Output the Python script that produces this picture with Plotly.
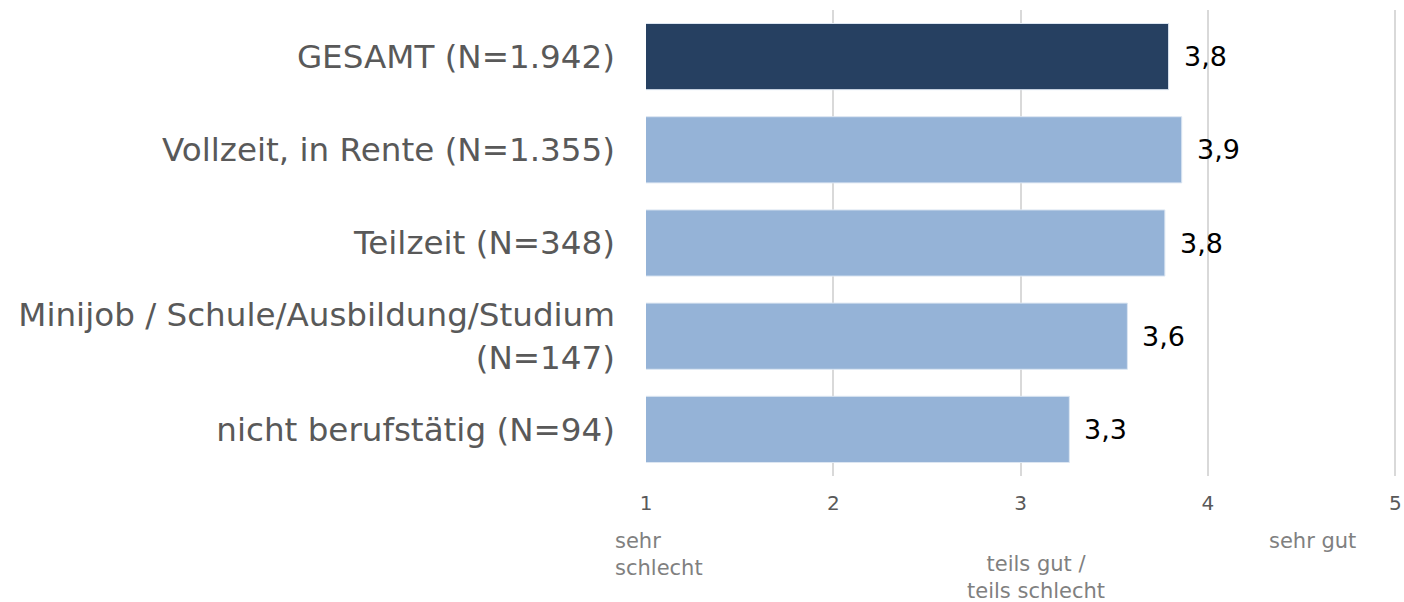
import plotly.graph_objects as go

# data
categories = [
    "GESAMT (N=1.942)",
    "Vollzeit, in Rente (N=1.355)",
    "Teilzeit (N=348)",
    "Minijob / Schule/Ausbildung/Studium<br>(N=147)",
    "nicht berufstätig (N=94)",
]
values = [3.79, 3.86, 3.77, 3.57, 3.26]
bar_colors = ["#264061", "#95B3D7", "#95B3D7", "#95B3D7", "#95B3D7"]
scale_ticks = [1, 2, 3, 4, 5]
scale_labels = [("sehr<br>schlecht", 1), ("teils gut /<br>teils schlecht", 3.08), ("sehr gut", 4.56)]

FONT = "Verdana, DejaVu Sans, sans-serif"

fig = go.Figure()
fig.add_trace(
    go.Bar(
        x=values,
        y=categories,
        orientation="h",
        marker=dict(color=bar_colors, line=dict(width=1, color="#dce6f2")),
        base=0,
        hoverinfo="skip",
    )
)

# value labels next to the bars
for cat, v in zip(categories, values):
    fig.add_annotation(
        x=v, y=cat, xref="x", yref="y",
        text=f"{v:.1f}".replace(".", ","),
        showarrow=False, xanchor="left", yanchor="middle", xshift=13,
        font=dict(family=FONT, size=27, color="#000000"),
    )

# verbal anchors under the scale
for txt, pos in scale_labels:
    if pos == 1:
        fig.add_annotation(
            x=pos, y=0, xref="x", yref="paper", text=txt, showarrow=False,
            xanchor="left", yanchor="top", align="left", xshift=-33, yshift=-51,
            font=dict(family=FONT, size=21, color="#808080"),
        )
    elif pos < 4:
        fig.add_annotation(
            x=pos, y=0, xref="x", yref="paper", text=txt, showarrow=False,
            xanchor="center", yanchor="top", align="center", yshift=-74,
            font=dict(family=FONT, size=21, color="#808080"),
        )
    else:
        fig.add_annotation(
            x=pos, y=0, xref="x", yref="paper", text=txt, showarrow=False,
            xanchor="center", yanchor="top", align="center", yshift=-51,
            font=dict(family=FONT, size=21, color="#808080"),
        )

fig.update_layout(
    width=1404,
    height=602,
    margin=dict(l=646, r=5, t=10, b=126),
    plot_bgcolor="white",
    paper_bgcolor="white",
    showlegend=False,
    bargap=0.29,
    font=dict(family=FONT),
    xaxis=dict(
        range=[1, 5.02],  # small pad so the gridline at 5 is still drawn
        tickvals=scale_ticks,
        showgrid=True,
        gridcolor="#d9d9d9",
        gridwidth=2,
        zeroline=False,
        showline=False,
        ticks="",
        automargin=False,
        ticklabelstandoff=13,
        tickfont=dict(family=FONT, size=20, color="#595959"),
    ),
    yaxis=dict(
        autorange="reversed",
        showgrid=False,
        zeroline=False,
        showline=False,
        ticks="",
        automargin=False,
        ticklabelstandoff=30,
        tickfont=dict(family=FONT, size=32.6, color="#595959"),
    ),
)

fig.write_html(
    "out.html",
    config={"displayModeBar": False},
    post_script="document.body.style.margin='0';",
)
